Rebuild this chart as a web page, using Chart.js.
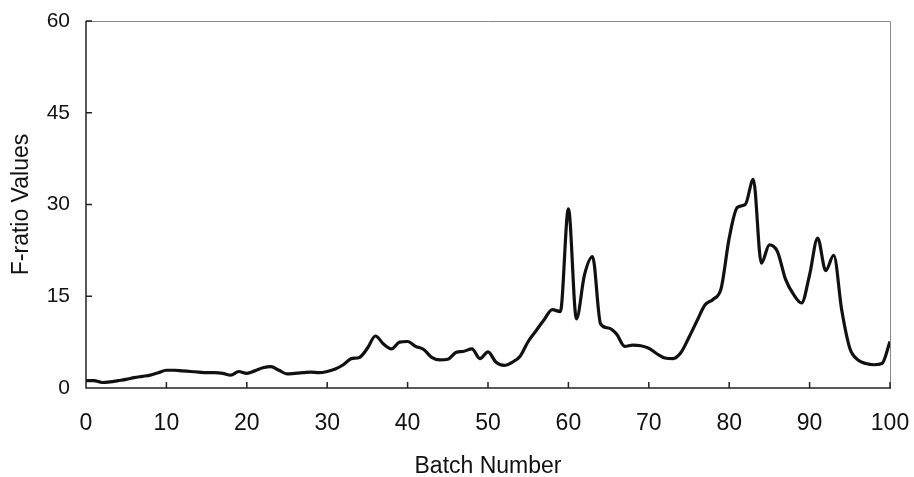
<!DOCTYPE html>
<html lang="en">

<head>
    <meta charset="UTF-8" />
    <title>F-ratio by Batch</title>
    <script src="https://cdn.jsdelivr.net/npm/chart.js"></script>
    <style>
        html, body { margin: 0; padding: 0; background: #fff; }
        #wrap { width: 914px; height: 477px; position: relative; }
    </style>
</head>

<body>
    <div id="wrap"><canvas id="fChart"></canvas></div>

    <script>
        // batch numbers 0..100
        const batches = [
            0, 1, 2, 3, 4, 5, 6, 7, 8, 9, 10, 11, 12, 13, 14, 15, 16, 17, 18, 19,
            20, 21, 22, 23, 24, 25, 26, 27, 28, 29, 30, 31, 32, 33, 34, 35, 36, 37, 38, 39,
            40, 41, 42, 43, 44, 45, 46, 47, 48, 49, 50, 51, 52, 53, 54, 55, 56, 57, 58, 59,
            60, 61, 62, 63, 64, 65, 66, 67, 68, 69, 70, 71, 72, 73, 74, 75, 76, 77, 78, 79,
            80, 81, 82, 83, 84, 85, 86, 87, 88, 89, 90, 91, 92, 93, 94, 95, 96, 97, 98, 99, 100
        ];

        // F-ratio
        const fValues = [
            1.2, 1.2, 0.9, 1.0, 1.2, 1.4, 1.7, 1.9, 2.1, 2.5,
            2.9, 2.9, 2.8, 2.7, 2.6, 2.5, 2.5, 2.4, 2.1, 2.7,
            2.4, 2.8, 3.3, 3.5, 2.9, 2.3, 2.4, 2.5, 2.6, 2.5,
            2.7, 3.1, 3.8, 4.8, 5.0, 6.5, 8.5, 7.2, 6.4, 7.5,
            7.6, 6.8, 6.3, 5.0, 4.6, 4.7, 5.8, 6.0, 6.4, 4.8,
            5.9, 4.2, 3.7, 4.2, 5.2, 7.6, 9.4, 11.2, 12.8, 12.5,
            29.3, 11.3, 18.5, 21.5, 10.5, 9.8, 8.8, 6.8, 7.0, 6.9,
            6.5, 5.6, 4.9, 4.8, 5.8, 8.3, 11.0, 13.6, 14.5, 16.3,
            24.5, 29.5, 30.0, 34.1, 20.4, 23.4, 22.3, 17.8, 15.3, 13.9,
            18.5, 24.5, 19.2, 21.7, 12.7, 6.5, 4.6, 4.0, 3.8, 4.0,
            7.6
        ];

        const xTicks = [0, 10, 20, 30, 40, 50, 60, 70, 80, 90, 100];
        const yTicks = [0, 15, 30, 45, 60];

        const fontFamily = "'Liberation Sans', Arial, sans-serif";

        // box around the plot + inward tick marks
        const frame = {
            id: "frame",
            afterDatasetsDraw(chart) {
                const { ctx, chartArea: a, scales } = chart;
                ctx.save();
                ctx.strokeStyle = "#888";
                ctx.lineWidth = 1;
                ctx.beginPath();
                ctx.moveTo(a.left, a.top + 0.5);
                ctx.lineTo(a.right + 0.5, a.top + 0.5);
                ctx.lineTo(a.right + 0.5, a.bottom);
                ctx.stroke();

                ctx.strokeStyle = "#222";
                ctx.lineWidth = 1.5;
                ctx.beginPath();
                ctx.moveTo(a.left, a.top);
                ctx.lineTo(a.left, a.bottom);
                ctx.lineTo(a.right + 1, a.bottom);
                xTicks.forEach(v => {
                    const px = scales.x.getPixelForValue(v);
                    ctx.moveTo(px, a.bottom);
                    ctx.lineTo(px, a.bottom - 6);
                });
                yTicks.forEach(v => {
                    const py = scales.y.getPixelForValue(v);
                    ctx.moveTo(a.left, py);
                    ctx.lineTo(a.left + 6, py);
                });
                ctx.stroke();
                ctx.restore();
            }
        };

        // let layout.padding alone decide the plot edges
        function noOverflow(s) {
            s.paddingLeft = 0;
            s.paddingRight = 0;
            s.paddingTop = 0;
            s.paddingBottom = 0;
        }

        new Chart(document.getElementById("fChart"), {
            type: "line",
            data: {
                datasets: [{
                    data: batches.map((b, i) => ({ x: b, y: fValues[i] })),
                    borderColor: "#111",
                    borderWidth: 3.2,
                    pointRadius: 0,
                    fill: false,
                    cubicInterpolationMode: "monotone"
                }]
            },
            options: {
                responsive: true,
                maintainAspectRatio: false,
                animation: false,
                layout: { padding: { top: 21, right: 24, left: 0, bottom: 0 } },
                plugins: {
                    legend: { display: false },
                    tooltip: { enabled: false }
                },
                scales: {
                    x: {
                        type: "linear",
                        min: 0,
                        max: 100,
                        border: { display: false },
                        grid: { display: false, drawTicks: false },
                        afterBuildTicks: s => { s.ticks = xTicks.map(v => ({ value: v })); },
                        afterFit: s => { s.height = 89; noOverflow(s); },
                        ticks: {
                            color: "#111",
                            padding: 22,
                            maxRotation: 0,
                            font: { family: fontFamily, size: 23 }
                        },
                        title: {
                            display: true,
                            text: "Batch Number",
                            color: "#111",
                            padding: { top: 0, bottom: -3 },
                            font: { family: fontFamily, size: 23 }
                        }
                    },
                    y: {
                        min: 0,
                        max: 60,
                        border: { display: false },
                        grid: { display: false, drawTicks: false },
                        afterBuildTicks: s => { s.ticks = yTicks.map(v => ({ value: v })); },
                        afterFit: s => { s.width = 86; noOverflow(s); },
                        ticks: {
                            color: "#111",
                            padding: 16,
                            font: { family: fontFamily, size: 21 }
                        },
                        title: {
                            display: true,
                            text: "F-ratio Values",
                            color: "#111",
                            padding: { top: 8, bottom: 0 },
                            font: { family: fontFamily, size: 23 }
                        }
                    }
                }
            },
            plugins: [frame]
        });
    </script>
</body>

</html>
